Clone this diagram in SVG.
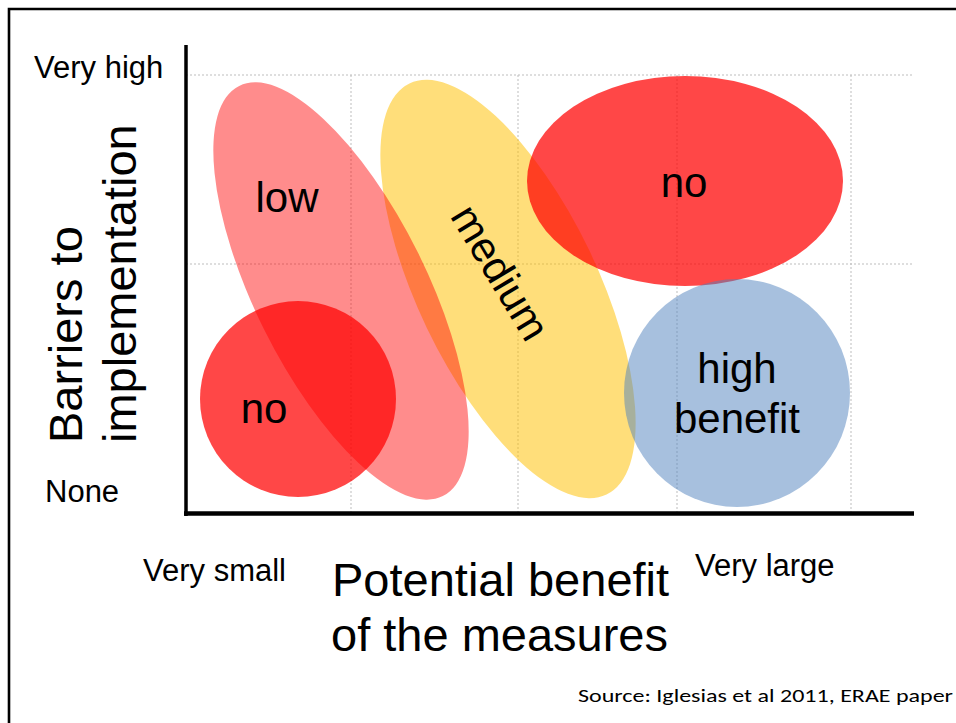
<svg xmlns="http://www.w3.org/2000/svg" width="956" height="723" viewBox="0 0 956 723">
<style>
.t{font-family:"Liberation Sans",Arial,sans-serif;fill:#000}
.sm{font-size:31px}
.big{font-size:47px}
.lab{font-size:42px}
.grid{stroke:#BDBDBD;stroke-width:1;stroke-dasharray:2,2;fill:none}
.axis{stroke:#000;fill:none}
.red{fill:#FF0000;fill-opacity:0.72}
.pink{fill:#FF0000;fill-opacity:0.45}
.yel{fill:#FFC000;fill-opacity:0.52}
.blue{fill:#4F81BD;fill-opacity:0.5}
</style>
<rect x="0" y="0" width="956" height="723" fill="#fff"/>
<path d="M9,723 V9 H956" fill="none" stroke="#000" stroke-width="2.6"/>
<g id="grid">
<path class="grid" d="M186,75 H913 M186,264 H913 M351,75 V513 M518,75 V513 M677,75 V513 M851,75 V513"/>
</g>
<g id="medium">
<ellipse class="yel" cx="508" cy="289" rx="228" ry="90" transform="rotate(64.4 508 289)"/>
<text class="t lab" text-anchor="middle" transform="translate(488,280) rotate(59)">medium</text>
</g>
<g id="low">
<ellipse class="pink" cx="341" cy="291" rx="229" ry="86" transform="rotate(63.6 341 291)"/>
<text class="t lab" x="287" y="212" text-anchor="middle">low</text>
</g>
<g id="no-top">
<ellipse class="red" cx="685" cy="181" rx="158" ry="105"/>
<text class="t lab" x="684" y="197" text-anchor="middle">no</text>
</g>
<g id="no-bottom">
<circle class="red" cx="298" cy="399" r="98"/>
<text class="t lab" x="264" y="423" text-anchor="middle">no</text>
</g>
<g id="high-benefit">
<ellipse class="blue" cx="737" cy="393" rx="113" ry="114"/>
<text class="t lab" x="737" y="383" text-anchor="middle">high</text>
<text class="t lab" x="737" y="433" text-anchor="middle">benefit</text>
</g>
<g id="axes">
<line class="axis" x1="186" y1="45" x2="186" y2="516" stroke-width="3.5"/>
<line class="axis" x1="184" y1="513.5" x2="914" y2="513.5" stroke-width="4.5"/>
</g>
<g id="labels">
<text class="t sm" x="34" y="78">Very high</text>
<text class="t sm" x="45" y="502">None</text>
<text class="t sm" x="143" y="581">Very small</text>
<text class="t sm" x="695" y="576">Very large</text>
<text class="t big" x="332" y="596">Potential benefit</text>
<text class="t big" x="331" y="651">of the measures</text>
<text class="t big" transform="translate(82,443) rotate(-90)">Barriers to</text>
<text class="t big" transform="translate(136,443) rotate(-90)">implementation</text>
<text x="578" y="702" font-family="Carlito,'Liberation Sans',sans-serif" font-size="19" textLength="375" lengthAdjust="spacingAndGlyphs">Source: Iglesias et al 2011, ERAE paper</text>
</g>
</svg>
